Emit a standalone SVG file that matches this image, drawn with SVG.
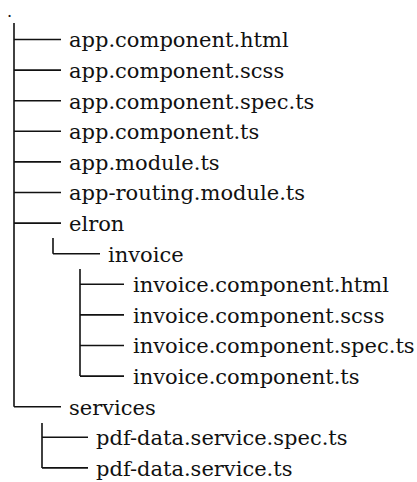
<svg xmlns="http://www.w3.org/2000/svg" width="417" height="482" viewBox="0 0 417 482">
  <style>
    .lbl { font-family: "DejaVu Serif", serif; font-size: 21px; fill: #111; }
    .rootlbl { font-family: "DejaVu Serif", serif; font-size: 16px; fill: #111; }
    .tree line { stroke: #111; stroke-width: 1.6; stroke-linecap: butt; }
  </style>
  <rect width="417" height="482" fill="#fff"/>

  <!-- tree connectors -->
  <g id="connectors" class="tree">
    <!-- root trunk -->
    <line x1="14" y1="23" x2="14" y2="406.7"/>
    <line x1="14" y1="39.5" x2="61" y2="39.5"/>
    <line x1="14" y1="70.1" x2="61" y2="70.1"/>
    <line x1="14" y1="100.7" x2="61" y2="100.7"/>
    <line x1="14" y1="131.3" x2="61" y2="131.3"/>
    <line x1="14" y1="161.9" x2="61" y2="161.9"/>
    <line x1="14" y1="192.5" x2="61" y2="192.5"/>
    <line x1="14" y1="223.1" x2="61" y2="223.1"/>
    <line x1="14" y1="406.7" x2="61" y2="406.7"/>
    <!-- elron -->
    <line x1="53" y1="238" x2="53" y2="253.7"/>
    <line x1="53" y1="253.7" x2="100" y2="253.7"/>
    <!-- invoice -->
    <line x1="80" y1="269" x2="80" y2="376.1"/>
    <line x1="80" y1="284.3" x2="124" y2="284.3"/>
    <line x1="80" y1="314.9" x2="124" y2="314.9"/>
    <line x1="80" y1="345.5" x2="124" y2="345.5"/>
    <line x1="80" y1="376.1" x2="124" y2="376.1"/>
    <!-- services -->
    <line x1="42" y1="423" x2="42" y2="467.9"/>
    <line x1="42" y1="437.3" x2="88" y2="437.3"/>
    <line x1="42" y1="467.9" x2="88" y2="467.9"/>
  </g>

  <g id="root"><text class="rootlbl" x="7" y="17">.</text></g>
  <g id="app-component-html"><text class="lbl" x="69" y="47.3">app.component.html</text></g>
  <g id="app-component-scss"><text class="lbl" x="69" y="77.9">app.component.scss</text></g>
  <g id="app-component-spec"><text class="lbl" x="69" y="108.5">app.component.spec.ts</text></g>
  <g id="app-component-ts"><text class="lbl" x="69" y="139.1">app.component.ts</text></g>
  <g id="app-module"><text class="lbl" x="69" y="169.7">app.module.ts</text></g>
  <g id="app-routing"><text class="lbl" x="69" y="200.3">app-routing.module.ts</text></g>
  <g id="elron"><text class="lbl" x="69" y="230.9">elron</text></g>
  <g id="invoice"><text class="lbl" x="108" y="261.5">invoice</text></g>
  <g id="invoice-html"><text class="lbl" x="133" y="292.1">invoice.component.html</text></g>
  <g id="invoice-scss"><text class="lbl" x="133" y="322.7">invoice.component.scss</text></g>
  <g id="invoice-spec"><text class="lbl" x="133" y="353.3">invoice.component.spec.ts</text></g>
  <g id="invoice-ts"><text class="lbl" x="133" y="383.9">invoice.component.ts</text></g>
  <g id="services"><text class="lbl" x="69" y="414.5">services</text></g>
  <g id="pdf-spec"><text class="lbl" x="96" y="445.1">pdf-data.service.spec.ts</text></g>
  <g id="pdf-service"><text class="lbl" x="96" y="475.7">pdf-data.service.ts</text></g>
</svg>
